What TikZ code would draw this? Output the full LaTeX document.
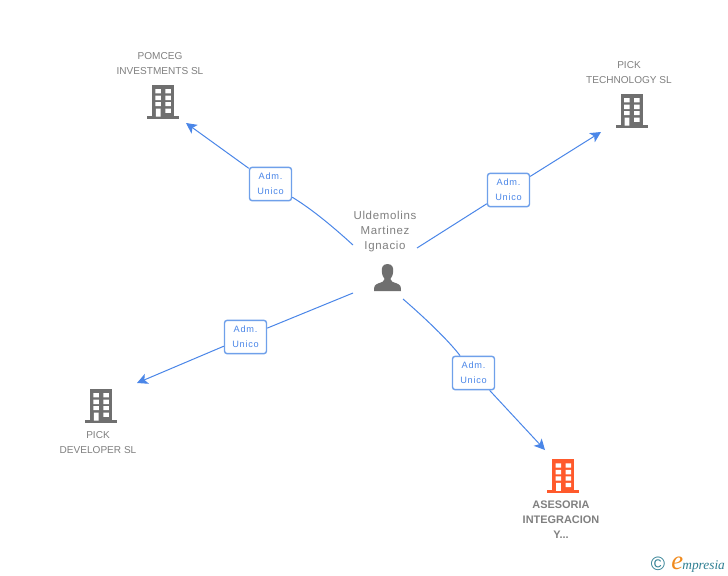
\documentclass[tikz,border=0pt]{standalone}
\usepackage{fontspec}
\setmainfont{Liberation Sans}
\newfontfamily\spaced[LetterSpace=6]{Liberation Sans}
\newfontfamily\badgefont[LetterSpace=8]{Liberation Sans}
\newfontfamily\logofont{Liberation Serif}
\usetikzlibrary{arrows.meta}
\definecolor{txtgrey}{HTML}{808080}
\definecolor{icongrey}{HTML}{6F6F6F}
\definecolor{linkblue}{HTML}{4A86E8}
\definecolor{badgeedge}{HTML}{6FA0EA}
\definecolor{hot}{HTML}{FF5A2C}
\definecolor{teal}{HTML}{2F7F93}
\definecolor{logoorange}{HTML}{F08A1D}
\tikzset{
  x=0.75pt,y=-0.75pt,
  lab/.style={text=txtgrey,font=\fontsize{7.55pt}{11.2pt}\selectfont,align=center,inner sep=0pt},
  hotlab/.style={text=txtgrey,font=\fontsize{8.2pt}{11.2pt}\selectfont\bfseries,align=center,inner sep=0pt},
  perslab/.style={text=txtgrey,font=\fontsize{8.6pt}{11.2pt}\selectfont\spaced,align=center,inner sep=0pt},
  badge/.style={draw=badgeedge,line width=1.05pt,rounded corners=2pt,fill=white,minimum width=31.5pt,minimum height=25pt,inner sep=0pt,
     text=linkblue,font=\fontsize{6.9pt}{11.2pt}\selectfont\badgefont,align=center},
  link/.style={draw=linkblue,line width=0.75pt},
  arrowlink/.style={link,-{Stealth[length=8pt,width=8pt,inset=2pt]}},
  building/.pic={
    \fill[pic actions] (-11,0) rectangle (11,31);
    \fill[pic actions] (-16,31) rectangle (16,33.6);
    \fill[white] (-7.6,4) rectangle (-2.2,8.4) (2.4,4) rectangle (7.8,8.4)
      (-7.6,10.6) rectangle (-2.2,15) (2.4,10.6) rectangle (7.8,15)
      (-7.6,17) rectangle (-2.2,21.2) (2.4,17) rectangle (7.8,21.2)
      (-7.2,23.6) rectangle (-2.4,31.6) (2.4,23.6) rectangle (7.8,27.8);
  }
}
\begin{document}
\begin{tikzpicture}
\useasboundingbox[fill=white] (0,0) rectangle (728,575);
% icons
\pic[fill=icongrey] at (163,85) {building};
\pic[fill=icongrey] at (631.7,94) {building};
\pic[fill=icongrey] at (101,389) {building};
\pic[fill=hot] at (563.3,459.3) {building};
% person
\fill[icongrey] (387.5,264) .. controls (382.5,264) and (381.6,268) .. (381.8,271)
  .. controls (382,275) and (383.3,277.5) .. (384.6,279)
  .. controls (384.6,281.5) and (382,282) .. (378,283.5)
  .. controls (374.5,284.8) and (374,286.5) .. (374,291)
  -- (401,291) .. controls (401,286.5) and (400.5,284.8) .. (397,283.5)
  .. controls (393,282) and (390.4,281.5) .. (390.4,279)
  .. controls (391.7,277.5) and (393,275) .. (393.2,271)
  .. controls (393.4,268) and (392.5,264) .. (387.5,264) -- cycle;
% labels
\node[lab] (pomceg) at (160,63.5) {POMCEG\\INVESTMENTS SL};
\node[lab] (tech) at (629,72.5) {PICK\\TECHNOLOGY SL};
\node[lab] (dev) at (98,442.5) {PICK\\DEVELOPER SL};
\node[hotlab] (ases) at (561,519.5) {ASESORIA\\INTEGRACION\\Y...};
\node[perslab] (pers) at (385,231.5) {Uldemolins\\Martinez\\Ignacio};
% badges
\node[badge] (b1) at (270.5,184) {Adm.\hspace{1.5pt}\\Unico};
\node[badge] (b2) at (508.5,190) {Adm.\hspace{1.5pt}\\Unico};
\node[badge] (b3) at (245.5,337) {Adm.\hspace{1.5pt}\\Unico};
\node[badge] (b4) at (473.5,373) {Adm.\hspace{1.5pt}\\Unico};
% connector ends
\coordinate (s1) at (353,245);
\coordinate (s2) at (417,248);
\coordinate (s3) at (353,293);
\coordinate (s4) at (403,299);
\coordinate (t1) at (186,123);
\coordinate (t2) at (601,132);
\coordinate (t3) at (137,383);
\coordinate (t4) at (545,450);
% connectors
\draw[link] (s1) .. controls (330,224) and (310,208) .. (b1);
\draw[arrowlink] (b1) -- (t1);
\draw[link] (s2) -- (b2);
\draw[arrowlink] (b2) -- (t2);
\draw[link] (s3) -- (b3);
\draw[arrowlink] (b3) -- (t3);
\draw[link] (s4) .. controls (425,318) and (448,340) .. (b4);
\draw[arrowlink] (b4) -- (t4);
% logo
\node[text=teal,font=\fontsize{14.5pt}{14.5pt}\selectfont,inner sep=0pt] (copyr) at (658,564) {©};
\node[inner sep=0pt,anchor=base west] (logo) at (671,569) {\logofont\itshape\fontsize{20pt}{20pt}\selectfont\textcolor{logoorange}{e}\hspace{-0.5pt}\fontsize{10pt}{14pt}\selectfont\textcolor{teal}{mpresia}};
\end{tikzpicture}
\end{document}
